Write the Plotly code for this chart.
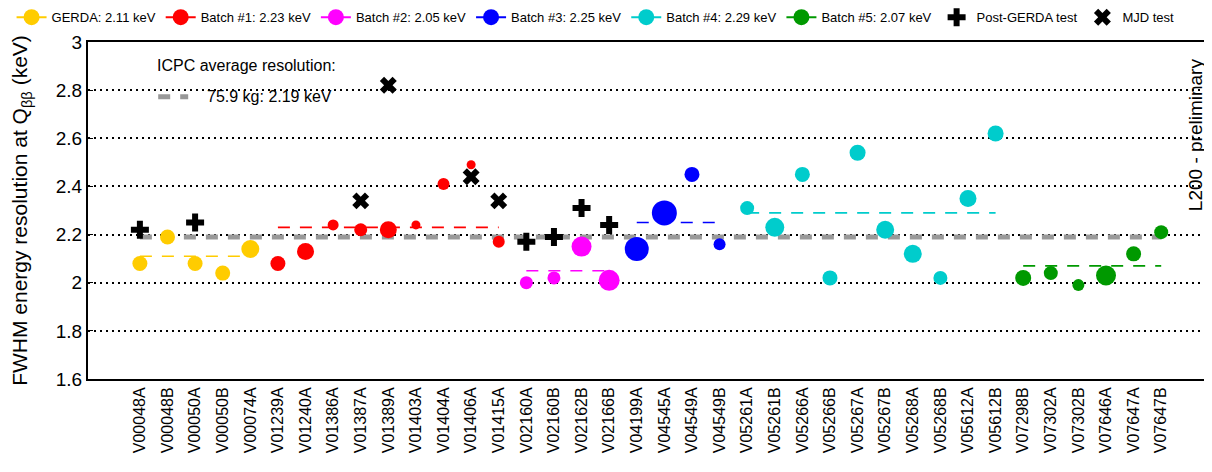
import plotly.graph_objects as go

detectors = ["V00048A", "V00048B", "V00050A", "V00050B", "V00074A",
             "V01239A", "V01240A", "V01386A", "V01387A", "V01389A", "V01403A", "V01404A", "V01406A", "V01415A",
             "V02160A", "V02160B", "V02162B", "V02166B",
             "V04199A", "V04545A", "V04549A", "V04549B",
             "V05261A", "V05261B", "V05266A", "V05266B", "V05267A", "V05267B", "V05268A", "V05268B", "V05612A", "V05612B",
             "V07298B", "V07302A", "V07302B", "V07646A", "V07647A", "V07647B"]
fwhm = [2.08, 2.19, 2.08, 2.04, 2.14,
        2.08, 2.13, 2.24, 2.22, 2.22, 2.24, 2.41, 2.49, 2.17,
        2.00, 2.02, 2.15, 2.01,
        2.14, 2.29, 2.45, 2.16,
        2.31, 2.23, 2.45, 2.02, 2.54, 2.22, 2.12, 2.02, 2.35, 2.62,
        2.02, 2.04, 1.99, 2.03, 2.12, 2.21]
# marker size ~ detector mass
msize = [15, 15, 15, 15, 18,
         15, 17, 11, 13, 17, 9, 12, 9, 12,
         13, 13, 20, 21,
         24, 25, 15, 12,
         14, 19, 15, 15, 16, 18, 18, 14, 17, 16,
         16, 14, 12, 20, 15, 14]
batch = [0] * 5 + [1] * 9 + [2] * 4 + [3] * 4 + [4] * 10 + [5] * 6

batch_names = ["GERDA", "Batch #1", "Batch #2", "Batch #3", "Batch #4", "Batch #5"]
batch_avg = [2.11, 2.23, 2.05, 2.25, 2.29, 2.07]
batch_colors = ["#ffcc00", "#ff0000", "#ff00ff", "#0000ff", "#00cccc", "#009900"]
legend_size = [16, 16, 16, 16, 16, 16]

post_gerda_det = ["V00048A", "V00050A", "V02160A", "V02160B", "V02162B", "V02166B"]
post_gerda_val = [2.22, 2.25, 2.17, 2.19, 2.31, 2.24]
mjd_det = ["V01387A", "V01389A", "V01406A", "V01415A"]
mjd_val = [2.34, 2.82, 2.44, 2.34]

icpc_avg = 2.19
icpc_label = "75.9 kg: 2.19 keV"

FONT = "Liberation Sans, Arial, sans-serif"

fig = go.Figure()

# overall average
fig.add_trace(go.Scatter(
    x=[detectors[0], detectors[-1]], y=[icpc_avg, icpc_avg], mode="lines",
    line=dict(color="#999999", width=5, dash="12px,10px"),
    name=icpc_label, showlegend=False))

# batch averages
for b in range(len(batch_names)):
    idx = [i for i in range(len(detectors)) if batch[i] == b]
    fig.add_trace(go.Scatter(
        x=[detectors[idx[0]], detectors[idx[-1]]], y=[batch_avg[b], batch_avg[b]],
        mode="lines", line=dict(color=batch_colors[b], width=1.6, dash="12px,10px"),
        showlegend=False, hoverinfo="skip"))

# detectors per batch
for b in range(len(batch_names)):
    idx = [i for i in range(len(detectors)) if batch[i] == b]
    fig.add_trace(go.Scatter(
        x=[detectors[i] for i in idx], y=[fwhm[i] for i in idx], mode="markers",
        marker=dict(color=batch_colors[b], size=[msize[i] for i in idx],
                    opacity=1, line=dict(width=0)),
        name=batch_names[b], showlegend=False))

fig.add_trace(go.Scatter(
    x=post_gerda_det, y=post_gerda_val, mode="markers",
    marker=dict(symbol="cross", color="black", size=15, line=dict(width=0)),
    showlegend=False))
fig.add_trace(go.Scatter(
    x=mjd_det, y=mjd_val, mode="markers",
    marker=dict(symbol="x", color="black", size=15, line=dict(width=0)),
    showlegend=False))

# legend entries
for b in range(len(batch_names)):
    fig.add_trace(go.Scatter(
        x=[None], y=[None], mode="lines+markers",
        line=dict(color=batch_colors[b], width=2),
        marker=dict(color=batch_colors[b], size=legend_size[b]),
        name=f"{batch_names[b]}: {batch_avg[b]:.2f} keV"))
fig.add_trace(go.Scatter(x=[None], y=[None], mode="markers",
                         marker=dict(symbol="cross", color="black", size=15),
                         name="Post-GERDA test"))
fig.add_trace(go.Scatter(x=[None], y=[None], mode="markers",
                         marker=dict(symbol="x", color="black", size=15),
                         name="MJD test"))
# ICPC average legend sample (text set as annotation for spacing)
fig.add_trace(go.Scatter(x=[None], y=[None], mode="lines",
                         line=dict(color="#999999", width=5, dash="12px,10px"),
                         name=" ", legend="legend2"))

# white box behind the ICPC legend (hides the grid line there)
fig.add_shape(type="rect", xref="paper", yref="paper",
              x0=0.053, x1=0.2536, y0=0.80, y1=0.97,
              fillcolor="white", line=dict(width=0), layer="between")
fig.add_annotation(
    text="ICPC average resolution:", xref="paper", yref="paper",
    x=0.0596, y=0.929, xanchor="left", yanchor="middle", showarrow=False,
    font=dict(size=16, color="black"))
fig.add_annotation(
    text=icpc_label, xref="paper", yref="paper",
    x=0.104, y=0.837, xanchor="left", yanchor="middle", showarrow=False,
    font=dict(size=16, color="black"))

fig.add_annotation(
    text="L200 - preliminary", textangle=-90, xref="paper", yref="paper",
    x=0.985, y=0.724, xanchor="center", yanchor="middle", showarrow=False,
    font=dict(size=19, color="black"))

# page body adds ~8px offset, so the figure is drawn 8px smaller
fig.update_layout(
    width=1204, height=464,
    margin=dict(l=80, r=0, t=34, b=93, autoexpand=False),
    paper_bgcolor="white", plot_bgcolor="white",
    font=dict(family=FONT, color="black"),
    showlegend=True,
    legend=dict(orientation="h", x=-0.068, y=1.118, xanchor="left", yanchor="top",
                font=dict(size=13), bgcolor="rgba(0,0,0,0)", itemclick=False),
    legend2=dict(x=0.058, y=0.837, xanchor="left", yanchor="middle",
                 bgcolor="rgba(0,0,0,0)", font=dict(size=16)),
    xaxis=dict(
        type="category", categoryorder="array", categoryarray=detectors,
        range=[-1.88, 38.84], tickangle=-90, tickfont=dict(size=16),
        showgrid=False, showline=True, linecolor="black", linewidth=2, mirror=True,
        ticks="", zeroline=False),
    yaxis=dict(
        range=[1.6, 3.0], dtick=0.2, tickfont=dict(size=19),
        title=dict(text="FWHM energy resolution at Q<sub>ββ</sub> (keV)", font=dict(size=21), standoff=22),
        showgrid=True, gridcolor="black", gridwidth=1.5, griddash="1.5px,4.5px",
        showline=True, linecolor="black", linewidth=2, ticks="inside", ticklen=5,
        tickcolor="black", zeroline=False),
)

fig.write_html("out.html")
